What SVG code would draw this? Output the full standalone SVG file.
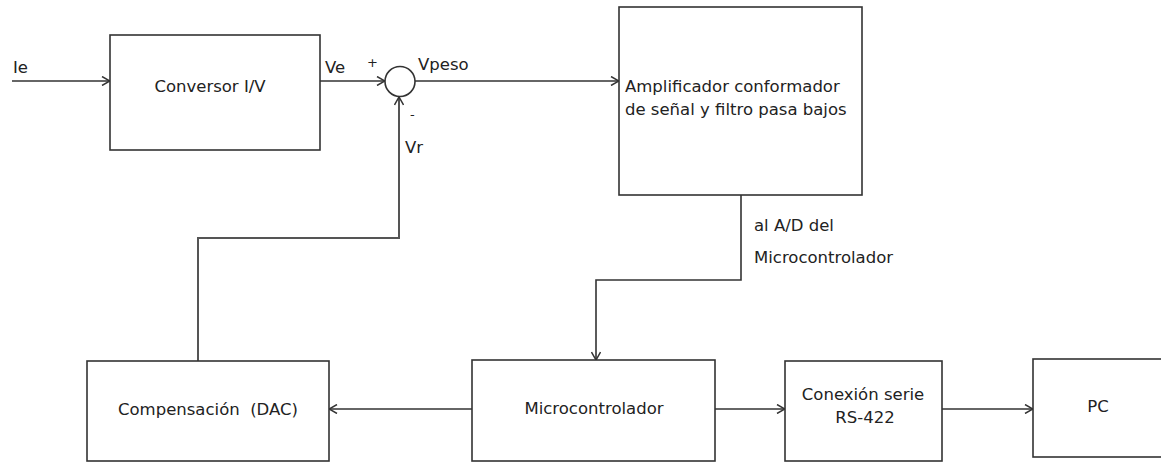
<svg xmlns="http://www.w3.org/2000/svg" width="1161" height="463" viewBox="0 0 1161 463">
  <style>
    .box { fill: #ffffff; stroke: #333333; stroke-width: 1.6; }
    .wire { fill: none; stroke: #333333; stroke-width: 1.6; }
    .fb { fill: none; stroke: #555555; stroke-width: 2; }
    text { font-family: "DejaVu Sans", "Liberation Sans", sans-serif; font-size: 16.5px; fill: #222222; white-space: pre; }
    .c { text-anchor: middle; }
    .sm { font-size: 13px; }
  </style>
  <defs>
    <marker id="arr" viewBox="0 0 10 10" refX="10" refY="5" markerWidth="10" markerHeight="10" markerUnits="userSpaceOnUse" orient="auto">
      <path d="M2,0.5 L10,5 L2,9.5" fill="none" stroke="#333333" stroke-width="1.5"/>
    </marker>
  </defs>
  <rect width="1161" height="463" fill="#ffffff"/>

  <g id="connectors">
    <line class="wire" x1="12" y1="81" x2="110" y2="81" marker-end="url(#arr)"/>
    <line class="wire" x1="320" y1="81" x2="385" y2="81" marker-end="url(#arr)"/>
    <line class="wire" x1="415" y1="81" x2="619" y2="81" marker-end="url(#arr)"/>
    <polyline class="fb" points="198,361 198,238 399,238 399,97" marker-end="url(#arr)"/>
    <polyline class="wire" points="741,195 741,280 596,280 596,360" marker-end="url(#arr)"/>
    <line class="wire" x1="472" y1="409" x2="329" y2="409" marker-end="url(#arr)"/>
    <line class="wire" x1="715" y1="409" x2="785" y2="409" marker-end="url(#arr)"/>
    <line class="wire" x1="942" y1="409" x2="1033" y2="409" marker-end="url(#arr)"/>
    <text x="13" y="73">Ie</text>
    <text x="325" y="73">Ve</text>
    <text class="sm" x="367" y="67">+</text>
    <text x="418" y="70">Vpeso</text>
    <text class="sm" x="410" y="119">-</text>
    <text x="405" y="153">Vr</text>
    <text x="754" y="231">al A/D del</text>
    <text x="754" y="263">Microcontrolador</text>
  </g>

  <g id="conversor">
    <rect class="box" x="110" y="35" width="210" height="115"/>
    <text class="c" x="210" y="92">Conversor I/V</text>
  </g>

  <g id="sumador">
    <circle class="box" cx="400" cy="81.5" r="15"/>
  </g>

  <g id="amplificador">
    <rect class="box" x="619" y="7" width="243" height="188"/>
    <text x="625" y="92">Amplificador conformador</text>
    <text x="625" y="115">de señal y filtro pasa bajos</text>
  </g>

  <g id="compensacion">
    <rect class="box" x="87" y="361" width="242" height="100"/>
    <text class="c" x="208" y="415">Compensación  (DAC)</text>
  </g>

  <g id="microcontrolador">
    <rect class="box" x="472" y="360" width="243" height="101"/>
    <text class="c" x="594" y="414">Microcontrolador</text>
  </g>

  <g id="conexion">
    <rect class="box" x="785" y="361" width="157" height="100"/>
    <text class="c" x="863" y="400">Conexión serie</text>
    <text class="c" x="865" y="423">RS-422</text>
  </g>

  <g id="pc">
    <rect class="box" x="1033" y="359" width="140" height="98"/>
    <text class="c" x="1098" y="412">PC</text>
  </g>
</svg>
